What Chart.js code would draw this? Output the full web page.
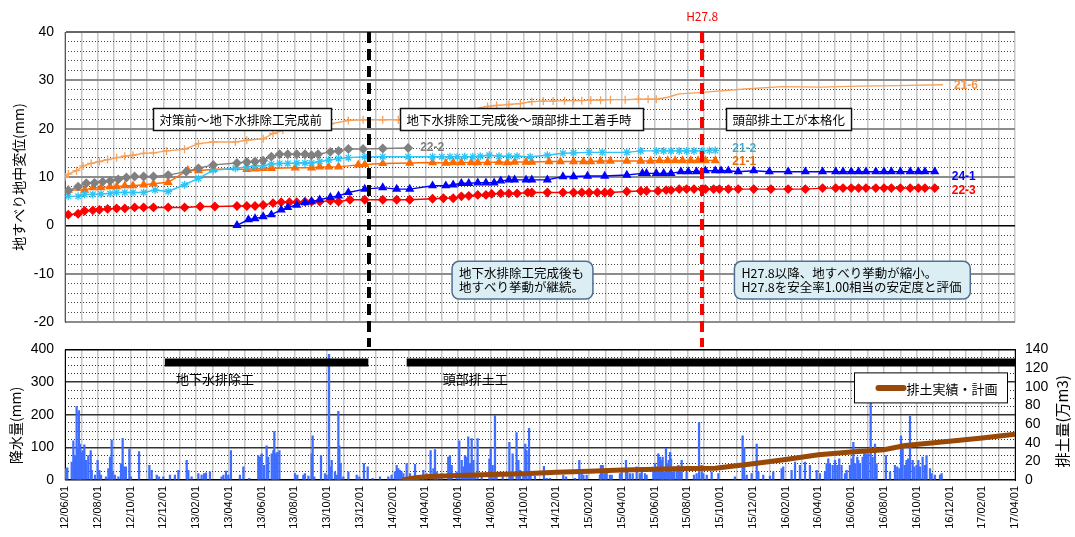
<!DOCTYPE html>
<html>
<head>
<meta charset="utf-8">
<script src="https://cdn.jsdelivr.net/npm/chart.js@4.4.1/dist/chart.umd.min.js"></script>
<style>
  body { margin: 0; background: #fff; }
  #wrap { position: relative; width: 1075px; height: 537px; }
  #top { position: absolute; left: 0; top: 0; width: 1075px; height: 350px; }
  #bottom { position: absolute; left: 0; top: 330px; width: 1075px; height: 207px; }
</style>
</head>
<body>
<div id="wrap">
  <canvas id="top" width="1075" height="350"></canvas>
  <canvas id="bottom" width="1075" height="207"></canvas>
</div>
<script>
// x values are months counted from 2012/06/01
const xTickLabels = ['12/06/01', '12/08/01', '12/10/01', '12/12/01', '13/02/01', '13/04/01', '13/06/01', '13/08/01',
  '13/10/01', '13/12/01', '14/02/01', '14/04/01', '14/06/01', '14/08/01', '14/10/01', '14/12/01', '15/02/01',
  '15/04/01', '15/06/01', '15/08/01', '15/10/01', '15/12/01', '16/02/01', '16/04/01', '16/06/01', '16/08/01',
  '16/10/01', '16/12/01', '17/02/01', '17/04/01'];

// displacement (mm)
const m216 = [0, 0.2, 0.7, 1.1, 1.6, 2.1, 2.6, 3.15, 3.65, 4.15, 4.8, 5.4, 6.2, 7.3, 8.15, 9.05, 10.4, 11.1, 12.1, 12.7,
  13.3, 13.9, 14.75, 16.2, 17.3, 18.2, 19.4, 20.35, 22.5, 24, 25.8, 26.35, 27.1, 27.8, 28.5, 29.2, 29.8, 30.5, 31.05, 31.55,
  32.1, 32.7, 33.3, 34.2, 35.0, 35.6, 36.1, 36.8, 37.5, 38.9, 41.5, 43.8, 46.1, 48.45, 50.8, 53.6];
const v216 = [10.0, 10.6, 11.3, 12.3, 12.8, 13.2, 13.6, 14.0, 14.3, 14.5, 14.9, 15.0, 15.4, 15.75, 16.9, 17.25, 17.25, 17.6, 17.9, 19.0,
  19.65, 20.3, 20.7, 21.0, 21.7, 21.85, 21.85, 21.85, 22.6, 23.5, 24.6, 24.8, 25.0, 25.2, 25.6, 25.7, 25.7, 25.8, 25.8, 25.8,
  25.9, 25.9, 26.0, 26.0, 26.1, 26.1, 26.1, 26.5, 27.2, 27.5, 28.2, 28.7, 28.6, 28.8, 28.9, 29.1];

const m222 = [0.2, 0.8, 1.3, 1.8, 2.3, 2.75, 3.25, 3.75, 4.25, 4.8, 5.4, 6.3, 7.4, 8.15, 9.05, 10.5, 11.1, 11.6, 12.1, 12.6,
  13.1, 13.6, 14.15, 14.65, 15.05, 15.45, 16.2, 16.7, 17.3, 18.2, 19.4, 20.95];
const v222 = [7.2, 8.0, 8.7, 8.8, 9.0, 9.2, 9.5, 9.9, 10.1, 10.1, 10.1, 10.4, 11.1, 11.8, 12.5, 12.9, 13.1, 13.2, 13.4, 14.2,
  14.7, 14.7, 14.7, 14.7, 14.5, 14.7, 15.2, 15.4, 15.8, 15.8, 15.9, 16.0];

const m212 = [0.2, 0.8, 1.2, 1.7, 2.2, 2.75, 3.15, 3.65, 4.15, 4.8, 5.5, 6.3, 7.3, 8.15, 9.05, 10.4, 11.1, 11.6, 12.1, 12.6,
  13.1, 13.6, 14.15, 14.65, 15.05, 15.55, 16.1, 16.7, 17.3, 18.3, 19.4, 20.95, 22.44, 23.0, 23.5, 23.95, 24.4, 24.9, 25.35, 25.9,
  26.5, 27.1, 27.6, 28.4, 29.45, 30.4, 31.05, 32.0, 32.8, 34.3, 35.15, 36.1, 36.55, 37.0, 37.5, 37.95, 38.4, 38.9, 39.35, 39.7];
const v212 = [6.0, 6.0, 6.4, 6.4, 6.5, 6.6, 6.8, 6.8, 6.8, 6.8, 7.3, 7.0, 8.4, 9.7, 11.4, 11.8, 12.1, 12.3, 12.3, 12.7,
  12.8, 12.8, 12.9, 12.9, 12.9, 13.2, 13.5, 13.8, 14.0, 14.2, 14.2, 14.2, 14.2, 14.2, 14.2, 14.2, 14.2, 14.2, 14.3, 14.5,
  14.3, 14.3, 14.3, 14.2, 14.5, 14.9, 15.0, 15.1, 15.1, 15.1, 15.4, 15.4, 15.4, 15.4, 15.4, 15.4, 15.4, 15.4, 15.5, 15.5];

const m211 = [0.2, 1.2, 1.7, 2.2, 2.75, 3.15, 3.65, 4.15, 4.8, 5.4, 6.3, 7.5, 8.15, 9.05, 11.1, 11.6, 12.1, 12.6, 14.05, 15.05,
  15.55, 16.1, 16.7, 17.9, 18.3, 19.4, 21.05, 22.44, 23.25, 23.7, 24.2, 24.8, 25.2, 25.8, 26.5, 27.0, 27.45, 28.15, 28.5, 29.55,
  30.25, 31.05, 31.65, 32.1, 32.7, 33.3, 34.3, 35.15, 35.75, 36.3, 36.8, 37.25, 37.7, 38.2, 38.65, 39.1, 39.7];
const v211 = [7.3, 7.3, 7.8, 7.8, 8.0, 8.0, 8.2, 8.2, 8.4, 8.6, 8.9, 11.4, 11.3, 11.6, 11.6, 11.7, 11.8, 11.8, 11.9, 11.9,
  12.1, 12.1, 12.1, 12.5, 12.6, 12.8, 12.9, 13.0, 12.9, 13.0, 13.0, 13.0, 13.0, 13.0, 13.1, 13.0, 13.1, 13.1, 13.1, 13.2,
  13.2, 13.2, 13.2, 13.2, 13.3, 13.3, 13.3, 13.3, 13.3, 13.4, 13.4, 13.4, 13.4, 13.4, 13.4, 13.4, 13.4];

const m241 = [10.5, 11.2, 11.6, 12.1, 12.6, 13.2, 13.6, 14.15, 14.65, 15.05, 15.55, 16.2, 16.7, 17.3, 18.3, 19.4, 20.25, 21.05, 22.44, 23.25,
  23.7, 24.2, 24.65, 25.2, 25.7, 26.2, 26.6, 27.1, 27.45, 28.15, 28.5, 29.45, 30.4, 31.05, 31.9, 32.95, 34.3, 35.25, 35.5, 36.1,
  36.55, 37.0, 37.6, 38.05, 38.55, 39.1, 39.7, 40.05, 40.5, 41.1, 42.05, 43.0, 44.15, 45.2, 46.25, 47.05, 47.5, 48.0, 48.45, 48.9,
  49.5, 50.0, 50.45, 51.0, 51.6, 52.1, 52.5, 53.1];
const v241 = [0.0, 1.2, 1.4, 1.8, 2.2, 3.2, 3.7, 4.2, 4.7, 4.9, 5.3, 5.8, 6.1, 6.8, 7.5, 7.8, 7.5, 7.5, 8.2, 8.2,
  8.4, 8.7, 8.7, 8.8, 8.8, 8.8, 9.2, 9.4, 9.4, 9.4, 9.4, 9.4, 10.1, 10.1, 10.2, 10.2, 10.4, 10.75, 10.75, 10.75,
  10.75, 10.75, 11.1, 11.1, 11.1, 11.3, 11.3, 11.3, 11.3, 11.1, 11.3, 11.1, 11.1, 11.1, 11.1, 11.1, 11.1, 11.1, 11.1, 11.1,
  11.1, 11.1, 11.1, 11.1, 11.1, 11.1, 11.1, 11.1];

const m223 = [0.2, 0.8, 1.2, 1.7, 2.1, 2.6, 3.15, 3.65, 4.25, 4.8, 5.4, 6.3, 7.3, 8.25, 9.15, 10.5, 11.1, 11.6, 12.1, 12.7,
  13.2, 13.7, 14.15, 14.65, 15.05, 15.55, 16.2, 16.7, 17.4, 18.3, 19.4, 20.25, 21.05, 22.44, 23.1, 23.7, 24.2, 24.65, 25.2, 25.7,
  26.05, 26.6, 27.1, 27.6, 28.25, 28.5, 29.45, 30.4, 31.05, 31.55, 32.0, 32.5, 32.95, 33.3, 34.3, 35.15, 35.5, 36.2, 36.7, 37.0,
  37.5, 37.95, 38.4, 38.9, 39.1, 39.6, 39.95, 40.5, 41.1, 42.05, 43.1, 44.15, 45.2, 46.25, 47.05, 47.5, 48.0, 48.45, 48.9, 49.5,
  50.0, 50.45, 51.0, 51.6, 52.1, 52.5, 53.1];
const v223 = [2.2, 2.4, 3.0, 3.1, 3.2, 3.4, 3.5, 3.5, 3.7, 3.7, 3.7, 3.7, 3.7, 3.9, 3.9, 4.0, 4.0, 4.0, 4.2, 4.6,
  4.8, 4.8, 4.8, 4.9, 4.9, 4.9, 5.1, 4.9, 5.3, 5.3, 5.3, 5.3, 5.3, 5.5, 5.6, 5.6, 6.0, 6.1, 6.3, 6.3,
  6.5, 6.6, 6.6, 6.6, 6.8, 6.8, 6.8, 6.8, 6.8, 6.8, 6.8, 6.8, 6.8, 6.8, 7.0, 7.1, 7.1, 7.1, 7.3, 7.3,
  7.5, 7.5, 7.5, 7.5, 7.5, 7.5, 7.5, 7.5, 7.5, 7.5, 7.5, 7.5, 7.5, 7.7, 7.7, 7.7, 7.7, 7.7, 7.7, 7.7,
  7.7, 7.7, 7.7, 7.7, 7.7, 7.7, 7.7];

// rainfall (mm)
const rainMonth = [
  0.06, 0.14, 0.41, 0.51, 0.61, 0.71, 0.77, 0.85, 0.92, 0.98,
  1.08, 1.18, 1.28, 1.42, 1.57, 1.63, 1.83, 1.99, 2.10, 2.20,
  2.50, 2.65, 2.75, 2.85, 2.91, 3.05, 3.26, 3.42, 3.52, 3.62,
  3.72, 3.93, 4.03, 4.52, 5.15, 5.29, 5.60, 5.74, 6.00, 6.41,
  6.71, 6.92, 7.43, 7.53, 7.73, 8.14, 8.34, 8.49, 8.61, 8.85,
  9.56, 9.67, 9.83, 9.97, 10.13, 10.68, 10.89, 11.25, 11.80, 11.90,
  12.01, 12.15, 12.31, 12.41, 12.62, 12.72, 12.78, 12.88, 12.96, 13.09,
  14.04, 14.18, 14.55, 14.65, 14.86, 15.06, 15.12, 15.22, 15.63, 15.87,
  15.97, 16.12, 16.18, 16.28, 16.48, 16.59, 16.69, 16.75, 16.83, 16.99,
  17.30, 17.81, 17.97, 18.25, 18.48, 18.78, 19.23, 19.74, 19.94, 20.15,
  20.25, 20.35, 20.45, 20.55, 20.66, 20.86, 21.06, 21.37, 21.88, 22.08,
  22.32, 22.49, 22.59, 22.69, 22.79, 22.99, 23.40, 23.50, 23.61, 23.91,
  24.07, 24.22, 24.32, 24.42, 24.52, 24.62, 24.73, 24.83, 24.93, 25.03,
  25.19, 25.44, 25.91, 25.99, 26.11, 26.25, 26.35, 26.72, 27.13, 27.23,
  27.33, 27.57, 27.68, 27.78, 27.98, 28.10, 28.18, 28.33, 28.43, 28.69,
  29.24, 29.41, 29.61, 30.42, 30.59, 31.14, 31.40, 31.54, 31.65, 31.85,
  32.66, 32.72, 32.83, 32.97, 33.07, 33.27, 33.38, 33.88, 33.99, 34.25,
  34.33, 34.49, 34.66, 34.90, 35.10, 35.21, 35.41, 35.51, 35.92, 36.02,
  36.12, 36.22, 36.33, 36.43, 36.49, 36.57, 36.69, 36.77, 36.86, 36.94,
  37.00, 37.10, 37.18, 37.34, 37.45, 37.55, 37.65, 37.95, 38.40, 38.56,
  38.71, 38.87, 38.97, 39.18, 39.48, 39.89, 40.90, 41.37, 41.47, 41.62,
  41.92, 42.23, 42.33, 42.63, 43.04, 43.24, 43.75, 43.85, 44.36, 44.57,
  44.87, 45.18, 45.48, 45.89, 46.09, 46.40, 46.50, 46.60, 46.70, 46.87,
  47.01, 47.15, 47.27, 47.41, 47.62, 47.72, 47.92, 48.03, 48.13, 48.23,
  48.37, 48.43, 48.53, 48.70, 48.80, 48.90, 49.04, 49.19, 49.31, 49.45,
  49.55, 50.12, 50.37, 50.67, 50.81, 50.94, 51.04, 51.14, 51.28, 51.38,
  51.48, 51.59, 51.75, 51.85, 51.99, 52.10, 52.20, 52.36, 52.50, 52.60,
  52.81, 52.91, 53.11, 53.42, 53.52];
const rainMm = [
  35, 37, 55, 120, 75, 225, 100, 213, 110, 85,
  90, 108, 60, 75, 90, 30, 15, 60, 30, 15,
  10, 35, 70, 122, 25, 15, 10, 50, 128, 40,
  40, 95, 10, 87, 45, 30, 15, 10, 10, 15,
  15, 30, 60, 30, 10, 20, 15, 20, 22, 25,
  10, 15, 27, 15, 90, 15, 40, 5, 75, 70,
  80, 45, 105, 70, 80, 90, 148, 80, 85, 90,
  20, 15, 15, 20, 12, 80, 135, 10, 75, 20,
  15, 385, 40, 60, 25, 15, 210, 105, 50, 10,
  25, 15, 10, 50, 40, 5, 10, 10, 15, 25,
  45, 35, 30, 25, 20, 50, 20, 48, 30, 20,
  90, 35, 93, 25, 15, 20, 70, 75, 45, 25,
  120, 60, 40, 75, 70, 132, 50, 127, 60, 20,
  127, 20, 65, 95, 45, 198, 20, 15, 115, 25,
  80, 145, 60, 30, 15, 110, 90, 158, 25, 12,
  42, 5, 5, 15, 10, 5, 60, 25, 15, 15,
  15, 45, 45, 20, 25, 15, 15, 20, 35, 60,
  25, 20, 20, 40, 20, 25, 20, 15, 30, 50,
  40, 80, 70, 60, 70, 25, 97, 50, 60, 85,
  65, 25, 40, 40, 45, 30, 60, 25, 15, 20,
  177, 45, 20, 15, 25, 20, 10, 135, 100, 15,
  20, 110, 25, 15, 12, 25, 35, 40, 30, 55,
  45, 55, 45, 30, 20, 25, 50, 65, 50, 45,
  60, 45, 65, 45, 20, 30, 45, 65, 115, 50,
  70, 60, 50, 70, 90, 80, 80, 235, 70, 110,
  50, 75, 25, 45, 40, 35, 135, 110, 45, 60,
  65, 195, 60, 40, 45, 60, 40, 70, 45, 75,
  35, 20, 15, 15, 20];

// soil removal, results and plan (10,000 m3)
const soilMonth = [20.6, 21.4, 22.2, 24, 26, 28, 30, 32, 34, 36, 38, 39.7, 42, 44, 46, 48, 50, 51.3, 54, 56, 58];
const soilVol = [0, 2.5, 3.8, 4.8, 5.8, 6.8, 8.2, 9.5, 10.6, 11.6, 12.2, 12.6, 17.5, 22, 27, 30, 32.5, 37, 41.5, 45, 49];

// construction periods
const workNames = ['地下水排除工', '頭部排土工'];
const workStart = [6.1, 20.86];
const workEnd = [18.52, 58];
const WORK_LEVEL = 360;

const eventMonths = [18.58, 38.9];

const pts = (xs, ys) => xs.map((x, i) => ({ x: x, y: ys[i] }));

Chart.defaults.font.family = '"Liberation Sans", "Noto Sans CJK JP", sans-serif';
Chart.defaults.color = '#000';
Chart.defaults.animation = false;

const JP = '"Noto Sans CJK JP", sans-serif';

const series = [
  { name: '21-6', xs: m216, ys: v216, color: '#f5a25d', style: 'cross', text: '#f79646', dx: 11, dy: 1 },
  { name: '22-2', xs: m222, ys: v222, color: '#808080', style: 'rectRot', text: '#7f7f7f', dx: 12, dy: 0 },
  { name: '21-2', xs: m212, ys: v212, color: '#2ec4f5', style: 'star', text: '#4bacc6', dx: 17, dy: -2 },
  { name: '21-1', xs: m211, ys: v211, color: '#ff6a00', style: 'triangle', text: '#e46c0a', dx: 17, dy: 1 },
  { name: '24-1', xs: m241, ys: v241, color: '#0000ff', style: 'triangle', text: '#0000ff', dx: 17, dy: 5 },
  { name: '22-3', xs: m223, ys: v223, color: '#ff0000', style: 'rectRot', text: '#ff0000', dx: 17, dy: 3 }
];

const boxes = [
  { x0: 5.35, x1: 16.22, text: '対策前〜地下水排除工完成前' },
  { x0: 20.45, x1: 35.29, text: '地下水排除工完成後〜頭部排土工着手時' },
  { x0: 40.34, x1: 47.99, text: '頭部排土工が本格化' }
];
const callouts = [
  { x0: 23.63, x1: 32.23, lines: ['地下水排除工完成後も', '地すべり挙動が継続。'] },
  { x0: 40.87, x1: 55.27, lines: ['H27.8以降、地すべり挙動が縮小。', 'H27.8を安全率1.00相当の安定度と評価'] }
];

function roundRect(ctx, x, y, w, h, r) {
  ctx.beginPath();
  ctx.moveTo(x + r, y);
  ctx.arcTo(x + w, y, x + w, y + h, r);
  ctx.arcTo(x + w, y + h, x, y + h, r);
  ctx.arcTo(x, y + h, x, y, r);
  ctx.arcTo(x, y, x + w, y, r);
  ctx.closePath();
}

const topNotes = {
  id: 'topNotes',
  afterDatasetsDraw(chart) {
    const { ctx, chartArea } = chart;
    const x = chart.scales.x, y = chart.scales.y;
    ctx.save();

    // end-of-series labels
    ctx.font = 'bold 12px "Liberation Sans", sans-serif';
    ctx.textBaseline = 'middle';
    ctx.textAlign = 'left';
    series.forEach((s, i) => {
      const pts = chart.getDatasetMeta(i).data;
      const last = pts[pts.length - 1];
      ctx.fillStyle = s.text;
      ctx.fillText(s.name, last.x + s.dx, last.y + s.dy);
    });

    // event lines
    const colors = ['#000', '#ff0000'];
    eventMonths.forEach((m, i) => {
      const px = Math.round(x.getPixelForValue(m));
      ctx.strokeStyle = colors[i];
      ctx.lineWidth = 4;
      ctx.setLineDash([11, 6]);
      ctx.beginPath();
      ctx.moveTo(px, chartArea.top);
      ctx.lineTo(px, chart.height - 3);
      ctx.stroke();
    });
    ctx.setLineDash([]);
    ctx.fillStyle = '#ff0000';
    ctx.font = '12px ' + JP;
    ctx.textAlign = 'center';
    ctx.fillText('H27.8', x.getPixelForValue(eventMonths[1]), chartArea.top - 16);

    // period boxes
    const bt = Math.round(y.getPixelForValue(24.2)) + 0.5;
    const bb = Math.round(y.getPixelForValue(19.65)) + 0.5;
    ctx.font = '12.5px ' + JP;
    ctx.textAlign = 'left';
    boxes.forEach(b => {
      const l = Math.round(x.getPixelForValue(b.x0)) + 0.5;
      const r = Math.round(x.getPixelForValue(b.x1)) + 0.5;
      ctx.fillStyle = '#fff';
      ctx.fillRect(l, bt, r - l, bb - bt);
      ctx.strokeStyle = '#111';
      ctx.lineWidth = 1.5;
      ctx.strokeRect(l, bt, r - l, bb - bt);
      ctx.fillStyle = '#000';
      ctx.fillText(b.text, l + 6, (bt + bb) / 2 + 1);
    });

    // callouts
    const ct = y.getPixelForValue(-7.45);
    const cb = y.getPixelForValue(-15.26);
    callouts.forEach(c => {
      const l = x.getPixelForValue(c.x0);
      const r = x.getPixelForValue(c.x1);
      roundRect(ctx, l, ct, r - l, cb - ct, 7);
      ctx.fillStyle = '#dbeef4';
      ctx.fill();
      ctx.strokeStyle = '#4f6f93';
      ctx.lineWidth = 1.5;
      ctx.stroke();
      ctx.fillStyle = '#000';
      const mid = (ct + cb) / 2;
      ctx.fillText(c.lines[0], l + 7, mid - 6.5);
      ctx.fillText(c.lines[1], l + 7, mid + 7);
    });
    ctx.restore();
  }
};

new Chart(document.getElementById('top'), {
  type: 'line',
  data: {
    datasets: series.map(s => ({
      label: s.name,
      data: pts(s.xs, s.ys),
      borderColor: s.color,
      backgroundColor: s.color,
      pointBackgroundColor: s.color,
      pointBorderColor: s.color,
      pointStyle: s.style,
      pointRadius: s.name === '21-6' ? (c => (c.raw && c.raw.x > 36.2 ? 0 : 4)) : 4,
      pointBorderWidth: 1.3,
      borderWidth: 1.4,
      tension: 0
    }))
  },
  options: {
    responsive: false,
    layout: { padding: { top: 32, right: 60, bottom: 28, left: 0 } },
    plugins: { legend: { display: false }, tooltip: { enabled: false } },
    scales: {
      x: {
        type: 'linear', min: 0, max: 58,
        ticks: { stepSize: 1, display: false },
        grid: { color: '#c6c6c6', lineWidth: 1.5, drawTicks: false },
        border: { display: false },
        afterFit: s => { s.height = 0; }
      },
      y: {
        min: -20, max: 40,
        ticks: { stepSize: 10, padding: 11, autoSkip: false, font: { size: 14 } },
        grid: {
          drawTicks: false,
          color: c => (c.tick.value === 0 ? '#000' : (c.tick.value === 40 ? '#666' : '#8c8c8c')),
          lineWidth: c => (c.tick.value === 0 ? 1.5 : 2)
        },
        border: { display: true, color: '#555', width: 1 },
        title: { display: true, text: '地すべり地中変位(mm)', font: { size: 14, family: JP }, padding: { top: 10 } },
        afterFit: s => { s.width = 65; }
      },
      yMinor: {
        position: 'left', min: -20, max: 40,
        ticks: { stepSize: 2, display: false },
        grid: {
          drawTicks: false,
          color: c => (c.tick.value % 10 === 0 ? 'rgba(0,0,0,0)' : '#444'),
          lineWidth: 1
        },
        border: { display: false, dash: [1, 2] },
        afterFit: s => { s.width = 0; }
      }
    }
  },
  plugins: [topNotes]
});

const bottomNotes = {
  id: 'bottomNotes',
  afterDatasetsDraw(chart) {
    const { ctx, chartArea } = chart;
    const x = chart.scales.x, yL = chart.scales.yL;
    ctx.save();
    ctx.fillStyle = '#000';
    ctx.font = '13px ' + JP;
    ctx.textBaseline = 'middle';
    ctx.textAlign = 'left';
    const labelAt = [6.78, 23.06];
    workNames.forEach((n, i) => {
      ctx.fillText(n, x.getPixelForValue(labelAt[i]), yL.getPixelForValue(309));
    });

    // legend
    const l = chartArea.right - 160.5, t = chartArea.top + 23.5, w = 153, h = 30;
    ctx.fillStyle = '#fff';
    ctx.fillRect(l, t, w, h);
    ctx.strokeStyle = '#000';
    ctx.lineWidth = 1;
    ctx.strokeRect(l, t, w, h);
    ctx.strokeStyle = '#984807';
    ctx.lineWidth = 6;
    ctx.lineCap = 'round';
    ctx.beginPath();
    ctx.moveTo(l + 24, t + h / 2);
    ctx.lineTo(l + 49, t + h / 2);
    ctx.stroke();
    ctx.fillStyle = '#000';
    ctx.fillText('排土実績・計画', l + 52, t + h / 2 + 1);

    // axis titles
    ctx.font = '14px ' + JP;
    ctx.textAlign = 'center';
    ctx.save();
    ctx.translate(16, chartArea.top + 76);
    ctx.rotate(-Math.PI / 2);
    ctx.fillText('降水量(mm)', 0, 0);
    ctx.restore();
    ctx.font = '15px ' + JP;
    ctx.translate(1062, chartArea.top + 72);
    ctx.rotate(-Math.PI / 2);
    ctx.fillText('排土量(万m3)', 0, 0);
    ctx.restore();
  }
};

const workSets = workNames.map((n, i) => ({
  type: 'line',
  label: n,
  data: [{ x: workStart[i], y: WORK_LEVEL }, { x: workEnd[i], y: WORK_LEVEL }],
  yAxisID: 'yL',
  borderColor: '#000',
  borderWidth: 8,
  borderCapStyle: 'butt',
  pointRadius: 0,
  order: 1
}));

new Chart(document.getElementById('bottom'), {
  type: 'line',
  data: {
    datasets: [
      {
        type: 'line',
        label: '排土実績・計画',
        data: pts(soilMonth, soilVol),
        yAxisID: 'yR',
        borderColor: '#984807',
        borderWidth: 5,
        pointRadius: 0,
        tension: 0,
        order: 0
      },
      ...workSets,
      {
        type: 'bar',
        label: '降水量',
        data: pts(rainMonth, rainMm),
        yAxisID: 'yL',
        backgroundColor: '#3f6dff',
        barThickness: 1.6,
        order: 2
      }
    ]
  },
  options: {
    responsive: false,
    layout: { padding: { top: 17, right: 0, bottom: 0, left: 0 } },
    plugins: { legend: { display: false }, tooltip: { enabled: false } },
    scales: {
      x: {
        type: 'linear', min: 0, max: 58, offset: false,
        ticks: {
          stepSize: 1, autoSkip: false, minRotation: 90, maxRotation: 90, padding: 6,
          font: { size: 11 },
          callback: v => (v % 2 === 0 ? xTickLabels[v / 2] : '')
        },
        grid: { color: '#c6c6c6', lineWidth: 1.5, drawTicks: false, offset: false },
        border: { display: false },
        afterFit: s => { s.height = 57; }
      },
      yL: {
        position: 'left', min: 0, max: 400,
        ticks: { stepSize: 100, padding: 11, autoSkip: false, font: { size: 14 } },
        grid: {
          drawTicks: false,
          color: c => (c.tick.value === 0 || c.tick.value === 400 ? '#000' : '#333'),
          lineWidth: 1.5
        },
        border: { display: true, color: '#000', width: 1 },
        afterFit: s => { s.width = 65; }
      },
      yLMinor: {
        position: 'left', min: 0, max: 400,
        ticks: { stepSize: 25, display: false },
        grid: {
          drawTicks: false,
          color: c => (c.tick.value % 100 === 0 ? 'rgba(0,0,0,0)' : '#333'),
          lineWidth: 1
        },
        border: { display: false, dash: [1, 2] },
        afterFit: s => { s.width = 0; }
      },
      yR: {
        position: 'right', min: 0, max: 140,
        ticks: { stepSize: 20, padding: 10, autoSkip: false, font: { size: 14 } },
        grid: { drawOnChartArea: false, drawTicks: false },
        border: { display: true, color: '#000', width: 1 },
        afterFit: s => { s.width = 60; }
      }
    }
  },
  plugins: [bottomNotes]
});
</script>
</body>
</html>
